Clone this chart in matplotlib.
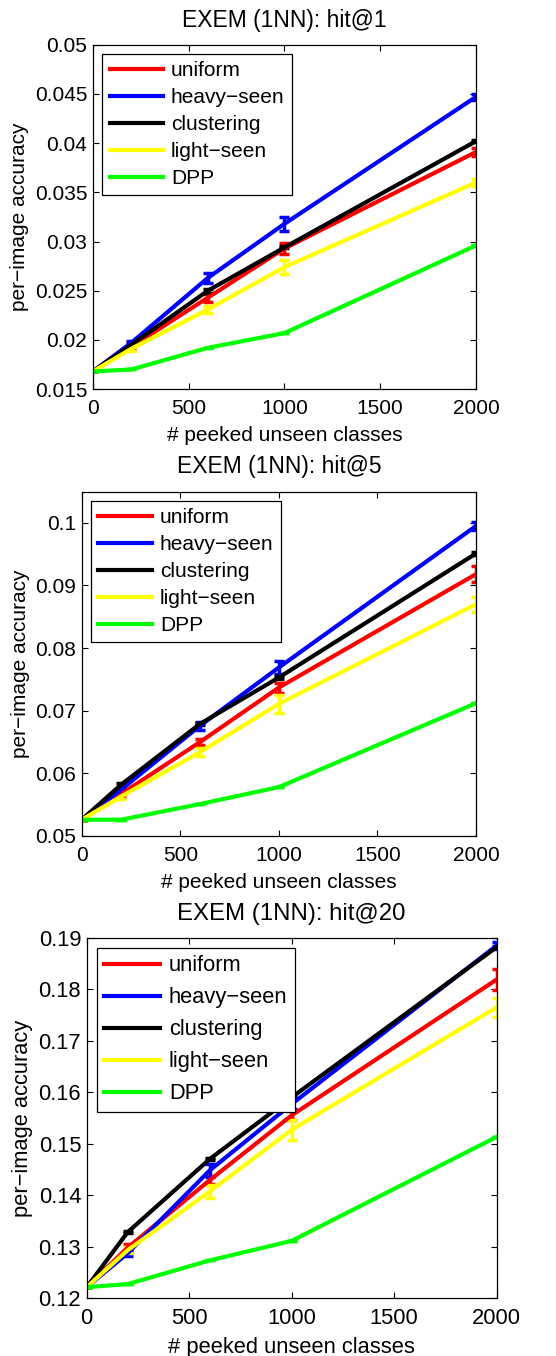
import matplotlib
matplotlib.use('Agg')
import matplotlib.pyplot as plt

plt.rcParams['font.family'] = ['Liberation Sans', 'DejaVu Sans']

peeked = [0, 200, 600, 1000, 2000]
methodNames = ['uniform', 'heavy\u2212seen', 'clustering', 'light\u2212seen', 'DPP']
colors = ['#ff0000', '#0000ff', '#000000', '#ffff00', '#00ff00']
titles = ['EXEM (1NN): hit@1', 'EXEM (1NN): hit@5', 'EXEM (1NN): hit@20']

# hit@1
hit1_mean = [
    [0.0168, 0.0193, 0.0243, 0.0293, 0.0391],
    [0.0168, 0.0197, 0.0263, 0.0318, 0.0447],
    [0.0168, 0.0195, 0.0250, 0.0294, 0.0402],
    [0.0168, 0.0191, 0.0231, 0.0274, 0.0360],
    [0.0168, 0.0170, 0.0192, 0.0207, 0.0296],
]
hit1_err = [
    [0, 0.0002, 0.0004, 0.0006, 0.0004],
    [0, 0.0002, 0.0005, 0.0007, 0.0003],
    [0, 0.0001, 0.0002, 0.0001, 0.0001],
    [0, 0.0002, 0.0004, 0.0007, 0.0004],
    [0, 0, 0, 0, 0],
]

# hit@5
hit5_mean = [
    [0.0526, 0.0567, 0.0650, 0.0737, 0.0918],
    [0.0526, 0.0574, 0.0676, 0.0769, 0.0995],
    [0.0526, 0.0582, 0.0679, 0.0753, 0.0951],
    [0.0526, 0.0563, 0.0634, 0.0711, 0.0870],
    [0.0526, 0.0526, 0.0551, 0.0578, 0.0712],
]
hit5_err = [
    [0, 0.0004, 0.0005, 0.0008, 0.0013],
    [0, 0.0003, 0.0006, 0.0010, 0.0007],
    [0, 0.0003, 0.0002, 0.0002, 0.0002],
    [0, 0.0004, 0.0007, 0.0014, 0.0012],
    [0, 0, 0, 0, 0],
]

# hit@20
hit20_mean = [
    [0.1221, 0.1298, 0.1429, 0.1555, 0.1819],
    [0.1221, 0.1287, 0.1448, 0.1577, 0.1885],
    [0.1221, 0.1328, 0.1470, 0.1590, 0.1882],
    [0.1221, 0.1293, 0.1407, 0.1527, 0.1765],
    [0.1221, 0.1227, 0.1273, 0.1311, 0.1513],
]
hit20_err = [
    [0, 0.0006, 0.0008, 0.0009, 0.0021],
    [0, 0.0006, 0.0013, 0.0010, 0.0007],
    [0, 0.0002, 0.0002, 0.0002, 0.0002],
    [0, 0.0006, 0.0012, 0.0019, 0.0018],
    [0, 0, 0, 0, 0],
]

means = [hit1_mean, hit5_mean, hit20_mean]
errs = [hit1_err, hit5_err, hit20_err]
ylims = [(0.015, 0.05), (0.05, 0.105), (0.12, 0.19)]
yticks = [
    [0.015, 0.02, 0.025, 0.03, 0.035, 0.04, 0.045, 0.05],
    [0.05, 0.06, 0.07, 0.08, 0.09, 0.1],
    [0.12, 0.13, 0.14, 0.15, 0.16, 0.17, 0.18, 0.19],
]
yticklabels = [
    ['0.015', '0.02', '0.025', '0.03', '0.035', '0.04', '0.045', '0.05'],
    ['0.05', '0.06', '0.07', '0.08', '0.09', '0.1'],
    ['0.12', '0.13', '0.14', '0.15', '0.16', '0.17', '0.18', '0.19'],
]
axesRects = [
    [0.167, 0.713, 0.689, 0.254],
    [0.147, 0.3835, 0.709, 0.254],
    [0.156, 0.0428, 0.737, 0.2655],
]
# the bottom panel is drawn a little larger
fontScale = [1.0, 1.0, 1.05]
legendSpacing = [0.38, 0.38, 0.5]

fig = plt.figure(figsize=(5.56, 13.56), dpi=100)

for panel in range(3):
    fs = 15 * fontScale[panel]
    ax = fig.add_axes(axesRects[panel])
    for i, name in enumerate(methodNames):
        ax.errorbar(peeked, means[panel][i], yerr=errs[panel][i],
                    color=colors[i], linewidth=3, elinewidth=2.5,
                    capsize=3.5, capthick=2.5, label=name)
    ax.set_xlim(0, 2000)
    ax.set_ylim(*ylims[panel])
    ax.set_xticks([0, 500, 1000, 1500, 2000])
    ax.set_yticks(yticks[panel])
    ax.set_yticklabels(yticklabels[panel])
    ax.tick_params(direction='in', top=True, right=True, length=4,
                   width=0.8, labelsize=fs)
    ax.tick_params(axis='x', pad=7)
    ax.tick_params(axis='y', pad=4)
    for spine in ax.spines.values():
        spine.set_linewidth(0.9)
    ax.set_title(titles[panel], fontsize=16.5 * fontScale[panel], pad=13)
    ax.set_xlabel('# peeked unseen classes', fontsize=fs, labelpad=6)
    ax.set_ylabel('per\u2212image accuracy', fontsize=fs, labelpad=4)
    handles, labels = ax.get_legend_handles_labels()
    handles = [h[0] for h in handles]
    leg = ax.legend(handles, labels, loc='upper left', fontsize=fs,
                    handlelength=2.55, handletextpad=0.4,
                    labelspacing=legendSpacing[panel],
                    borderpad=0.35, fancybox=False, framealpha=1,
                    borderaxespad=0.45)
    leg.get_frame().set_edgecolor('black')
    leg.get_frame().set_linewidth(0.9)

plt.savefig('out.png', dpi=100)
plt.close()
